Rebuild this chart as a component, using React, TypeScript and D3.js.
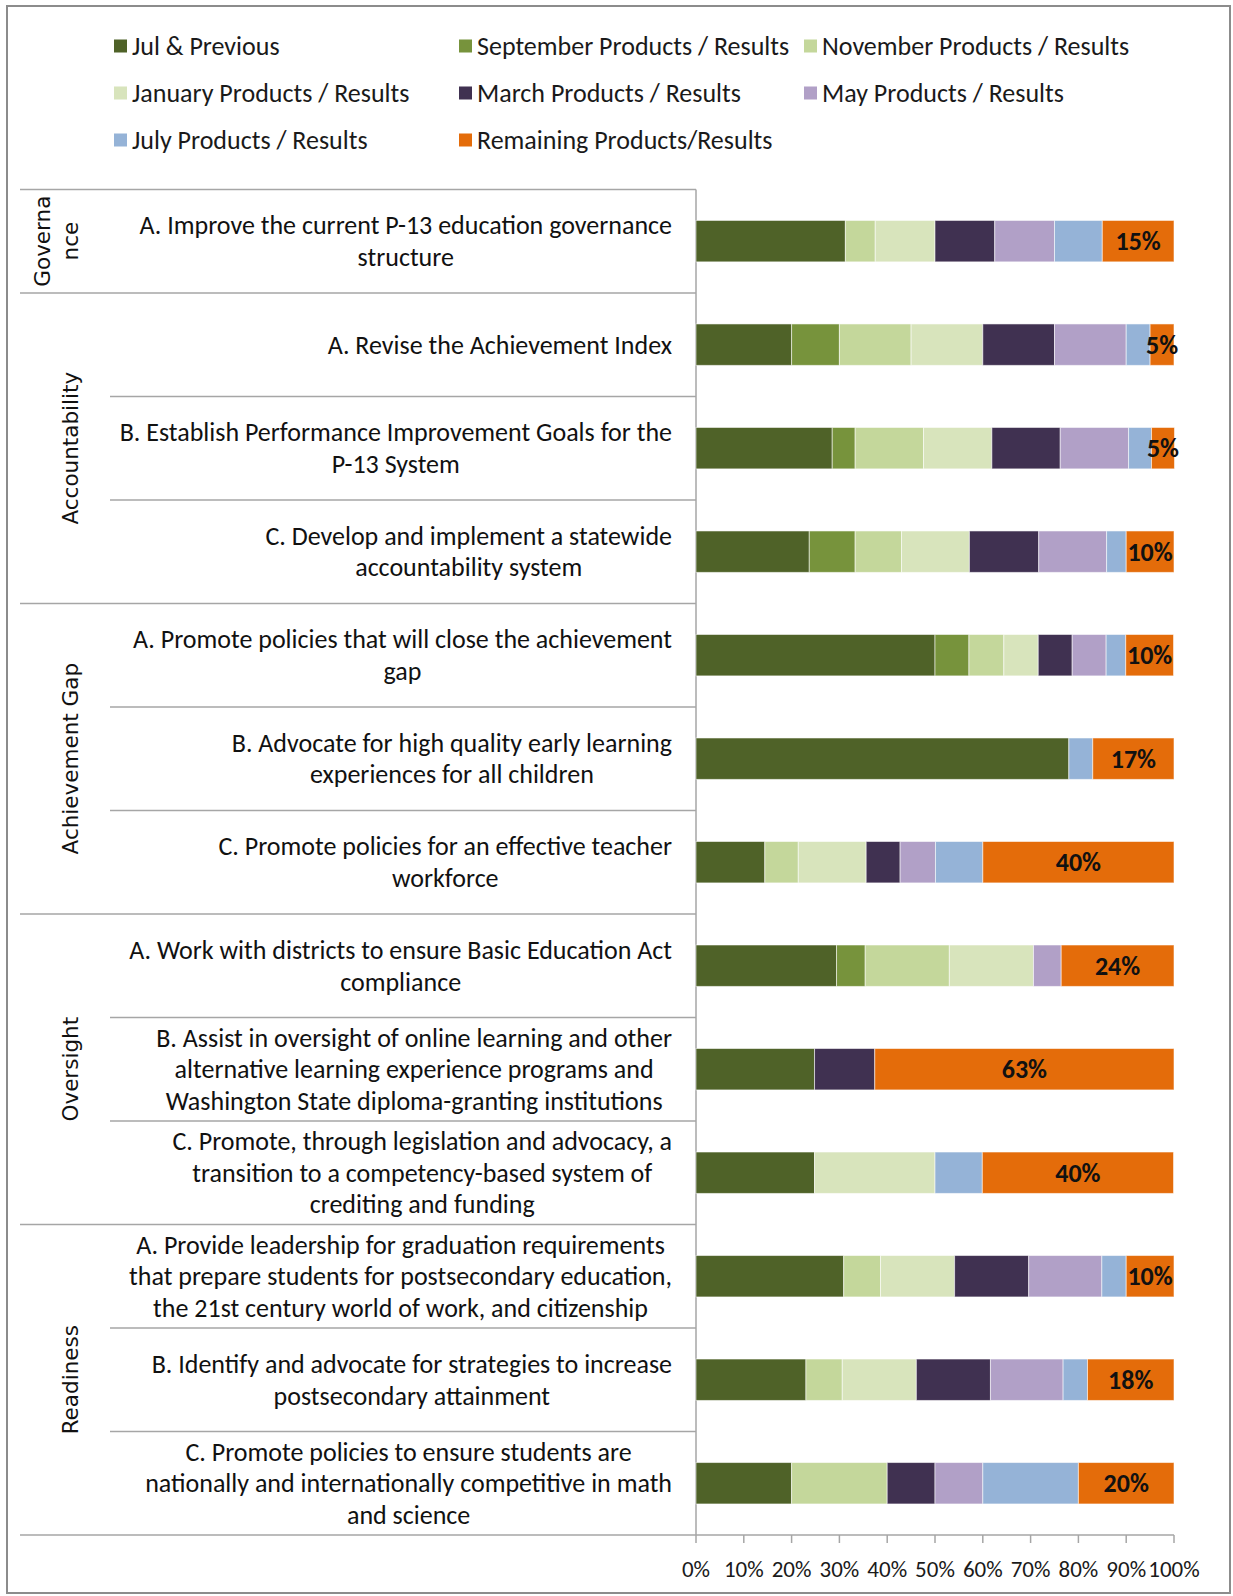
import { useMemo } from 'react';
import * as d3 from 'd3';

// series names in stacking order
const seriesNames = [
  'Jul & Previous',
  'September Products / Results',
  'November Products / Results',
  'January Products / Results',
  'March Products / Results',
  'May Products / Results',
  'July Products / Results',
  'Remaining Products/Results',
];
const seriesColors = ['#4F6228', '#77933C', '#C4D79B', '#D8E4BC', '#403151', '#B1A0C7', '#95B3D7', '#E46C0A'];

// one value per row (percent), rows top to bottom
const julPrev = [31.25, 20, 28.5, 23.7, 50, 78, 14.4, 29.4, 24.8, 24.8, 30.9, 23, 20];
const sepVals = [0, 10, 4.8, 9.6, 7.1, 0, 0, 6, 0, 0, 0, 0, 0];
const novVals = [6.25, 15, 14.3, 9.7, 7.3, 0, 7, 17.6, 0, 0, 7.7, 7.6, 20];
const janVals = [12.5, 15, 14.3, 14.2, 7.2, 0, 14.2, 17.6, 0, 25.2, 15.5, 15.5, 0];
const marVals = [12.5, 15, 14.3, 14.5, 7.1, 0, 7.1, 0, 12.6, 0, 15.5, 15.5, 10];
const mayVals = [12.5, 15, 14.3, 14.2, 7.1, 0, 7.4, 5.8, 0, 0, 15.3, 15.2, 10];
const julyVals = [10, 5, 4.8, 4.1, 4.1, 5, 9.9, 0, 0, 9.9, 5.1, 5.1, 20];
const remVals = [15, 5, 4.8, 10, 10, 17, 40, 23.6, 62.6, 40, 10, 18.1, 20];

const categories = [
  ['A. Improve the current P-13 education governance', 'structure'],
  ['A. Revise the Achievement Index'],
  ['B. Establish Performance Improvement Goals for the', 'P-13 System'],
  ['C. Develop and implement a statewide', 'accountability system'],
  ['A. Promote policies that will close the achievement', 'gap'],
  ['B. Advocate for high quality early learning', 'experiences for all children'],
  ['C. Promote policies for an effective teacher', 'workforce'],
  ['A. Work with districts to ensure Basic Education Act', 'compliance'],
  ['B. Assist in oversight of online learning and other', 'alternative learning experience programs and', 'Washington State diploma-granting institutions'],
  ['C. Promote, through legislation and advocacy, a', 'transition to a competency-based system of', 'crediting and funding'],
  ['A. Provide leadership for graduation requirements', 'that prepare students for postsecondary education,', 'the 21st century world of work, and citizenship'],
  ['B. Identify and advocate for strategies to increase', 'postsecondary attainment'],
  ['C. Promote policies to ensure students are', 'nationally and internationally competitive in math', 'and science'],
];

// group label lines, first row index, row count
const groupLabels = [['Governa', 'nce'], ['Accountability'], ['Achievement Gap'], ['Oversight'], ['Readiness']];
const groupStarts = [0, 1, 4, 7, 10];
const groupSizes = [1, 3, 3, 3, 3];

const tickValues = [0, 10, 20, 30, 40, 50, 60, 70, 80, 90, 100];

const labelFont = 'Carlito, Lato, sans-serif';

export default function App() {
  const width = 1233;
  const height = 1596;
  const tableTop = 189.4;
  const tableBottom = 1535;
  const tableLeft = 20;
  const catLeft = 110;
  const labelRight = 672;
  const lineH = 31.6;
  const fontSize = 26;

  const allSeries = [julPrev, sepVals, novVals, janVals, marVals, mayVals, julyVals, remVals];
  const rows = categories.map((_, i) => {
    const r: any = { id: String(i) };
    seriesNames.forEach((s, j) => (r[s] = allSeries[j][i]));
    return r;
  });

  const stacked = d3.stack<any>().keys(seriesNames)(rows);

  const x = d3.scaleLinear().domain([0, 100]).range([696, 1174]);
  const y = d3.scaleBand()
    .domain(rows.map(r => r.id))
    .range([tableTop, tableBottom])
    .paddingInner(0.6)
    .paddingOuter(0.3);
  const step = y.step();

  // measure text widths so multi-line labels centre on their widest line
  const measure = useMemo(() => {
    const ctx = document.createElement('canvas').getContext('2d')!;
    ctx.font = `${fontSize}px ${labelFont}`;
    return (s: string) => ctx.measureText(s).width;
  }, []);

  const rowTop = (i: number) => tableTop + i * step;

  return (
    <div style={{ position: 'absolute', left: 0, top: 0 }}>
      <svg width={width} height={height} style={{ display: 'block', background: '#fff' }}>
        <rect x={7} y={6} width={1223} height={1587} fill="#fff" stroke="#8c8c8c" strokeWidth={2} />

        {/* legend */}
        {seriesNames.map((s, i) => {
          const col = i % 3;
          const row = Math.floor(i / 3);
          const lx = [114, 459, 804][col];
          const ly = [46, 93, 140][row];
          return (
            <g key={s}>
              <rect x={lx} y={ly - 6.5} width={13} height={13} fill={seriesColors[i]} />
              <text x={lx + 18} y={ly} dominantBaseline="central" fontFamily={labelFont} fontSize={fontSize} fill="#1a1a1a">
                {s}
              </text>
            </g>
          );
        })}

        {/* table lines */}
        <g stroke="#a6a6a6" strokeWidth={1.5}>
          <line x1={tableLeft} x2={x(0)} y1={tableTop} y2={tableTop} />
          {groupStarts.slice(1).map(g => (
            <line key={'g' + g} x1={tableLeft} x2={x(0)} y1={rowTop(g)} y2={rowTop(g)} />
          ))}
          {rows.map((_, i) =>
            i > 0 && !groupStarts.includes(i) ? (
              <line key={'r' + i} x1={catLeft} x2={x(0)} y1={rowTop(i)} y2={rowTop(i)} />
            ) : null
          )}
          <line x1={tableLeft} x2={x(100)} y1={tableBottom} y2={tableBottom} />
          <line x1={x(0)} x2={x(0)} y1={tableTop} y2={tableBottom} />
          {tickValues.map(t => (
            <line key={'t' + t} x1={x(t)} x2={x(t)} y1={tableBottom} y2={tableBottom + 8} />
          ))}
        </g>

        {/* tick labels */}
        {tickValues.map(t => (
          <text key={'tl' + t} x={x(t)} y={1569} textAnchor="middle" dominantBaseline="central" fontFamily={labelFont} fontSize={23} fill="#1a1a1a">
            {t}%
          </text>
        ))}

        {/* group labels */}
        {groupLabels.map((lines, gi) => {
          const cy = rowTop(groupStarts[gi]) + (groupSizes[gi] * step) / 2;
          const xs = lines.length === 2 ? [42, 70] : [70];
          return lines.map((ln, li) => (
            <text
              key={'gl' + gi + li}
              transform={`translate(${xs[li]},${cy}) rotate(-90)`}
              textAnchor="middle"
              dominantBaseline="central"
              fontFamily="'DejaVu Sans', Verdana, sans-serif"
              fontSize={21.5}
              fill="#111"
            >
              {ln}
            </text>
          ));
        })}

        {/* category labels */}
        {categories.map((lines, i) => {
          const maxW = d3.max(lines, measure) ?? 0;
          const cx = labelRight - maxW / 2;
          const cy = rowTop(i) + step / 2;
          return lines.map((ln, li) => (
            <text
              key={'c' + i + li}
              x={cx}
              y={cy + (li - (lines.length - 1) / 2) * lineH}
              textAnchor="middle"
              dominantBaseline="central"
              fontFamily={labelFont}
              fontSize={fontSize}
              fill="#111"
            >
              {ln}
            </text>
          ));
        })}

        {/* bars */}
        {stacked.map((layer, si) => (
          <g key={layer.key} fill={seriesColors[si]}>
            {layer.map((d, i) =>
              d[1] - d[0] > 0 ? (
                <rect
                  key={i}
                  x={x(d[0])}
                  y={y(String(i))}
                  width={x(d[1]) - x(d[0])}
                  height={y.bandwidth()}
                  stroke="rgba(255,255,255,0.55)"
                  strokeWidth={1}
                />
              ) : null
            )}
          </g>
        ))}

        {/* remaining labels */}
        {stacked[stacked.length - 1].map((d, i) => (
          <text
            key={'v' + i}
            x={x((d[0] + d[1]) / 2)}
            y={(y(String(i)) ?? 0) + y.bandwidth() / 2}
            textAnchor="middle"
            dominantBaseline="central"
            fontFamily={labelFont}
            fontWeight="bold"
            fontSize={26}
            fill="#111"
          >
            {Math.round(d[1] - d[0])}%
          </text>
        ))}
      </svg>
    </div>
  );
}
